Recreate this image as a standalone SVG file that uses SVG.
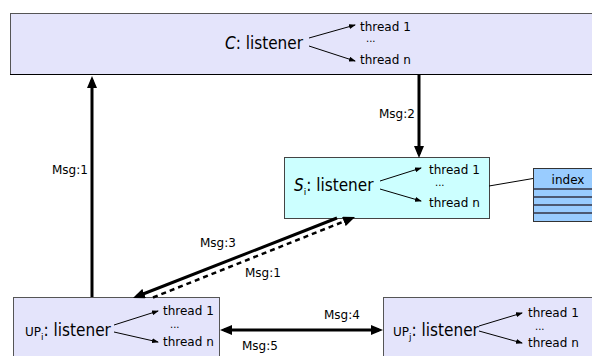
<svg xmlns="http://www.w3.org/2000/svg" width="592" height="356" viewBox="0 0 592 356">
  <style>
    .box { fill: #e4e4fb; stroke: #555; stroke-width: 1; }
    .srv { fill: #ccffff; stroke: #444; stroke-width: 1; }
    .idx { fill: #99ccff; stroke: #333; stroke-width: 1; }
    .row { stroke: #334; stroke-width: 1.5; }
    .name { font-family: "DejaVu Sans Condensed", "DejaVu Sans", sans-serif; font-size: 17px; fill: #000; }
    .sub { font-family: "DejaVu Sans", sans-serif; font-size: 9px; }
    .up { font-family: "DejaVu Sans", sans-serif; font-size: 12px; }
    .thr { font-family: "DejaVu Sans", sans-serif; font-size: 12px; fill: #000; }
    .dots { font-family: "DejaVu Sans", sans-serif; font-size: 10px; fill: #000; }
    .lbl { font-family: "DejaVu Sans", sans-serif; font-size: 12px; fill: #000; }
    .thick { stroke: #000; stroke-width: 3; fill: none; }
    .dash { stroke: #000; stroke-width: 2.5; fill: none; stroke-dasharray: 5 4; }
    .thin { stroke: #000; stroke-width: 1; fill: none; }
  </style>
  <defs>
    <marker id="big" viewBox="0 0 12 10" markerUnits="userSpaceOnUse" markerWidth="12" markerHeight="10" refX="8" refY="5" orient="auto-start-reverse">
      <path d="M0,0 L12,5 L0,10 z" fill="#000"/>
    </marker>
    <marker id="small" viewBox="0 0 7 5" markerUnits="userSpaceOnUse" markerWidth="7" markerHeight="5" refX="6" refY="2.5" orient="auto">
      <path d="M0,0 L7,2.5 L0,5 z" fill="#000"/>
    </marker>
  </defs>

  <!-- coordinator -->
  <g id="coordinator">
    <rect class="box" x="10.5" y="13.5" width="590" height="61"/>
    <line x1="10" y1="74.5" x2="592" y2="74.5" stroke="#000" stroke-width="1"/>
    <text class="name" x="225" y="49"><tspan font-style="italic">C</tspan>: listener</text>
    <line class="thin" x1="309" y1="38" x2="355" y2="25" marker-end="url(#small)"/>
    <line class="thin" x1="309" y1="46" x2="355" y2="61" marker-end="url(#small)"/>
    <text class="thr" x="360" y="31">thread 1</text>
    <text class="dots" x="366" y="42">...</text>
    <text class="thr" x="360" y="64">thread n</text>
  </g>

  <!-- server S_i -->
  <g id="server">
    <rect class="srv" x="284.5" y="157.5" width="205" height="61"/>
    <text class="name" x="294" y="191"><tspan font-style="italic">S</tspan><tspan class="sub" dy="4">i</tspan><tspan dy="-4">: listener</tspan></text>
    <line class="thin" x1="380" y1="181" x2="421" y2="168" marker-end="url(#small)"/>
    <line class="thin" x1="380" y1="189" x2="421" y2="201" marker-end="url(#small)"/>
    <text class="thr" x="429" y="174">thread 1</text>
    <text class="dots" x="435" y="186">...</text>
    <text class="thr" x="429" y="207">thread n</text>
  </g>

  <!-- index table -->
  <g id="index">
    <rect class="idx" x="533.5" y="168.5" width="70" height="53"/>
    <line class="row" x1="533" y1="189" x2="604" y2="189"/>
    <line class="row" x1="533" y1="197" x2="604" y2="197"/>
    <line class="row" x1="533" y1="205" x2="604" y2="205"/>
    <line class="row" x1="533" y1="213" x2="604" y2="213"/>
    <text class="lbl" x="568" y="184" font-size="13" text-anchor="middle">index</text>
  </g>

  <!-- peer UP_i -->
  <g id="peer-i">
    <rect class="box" x="13.5" y="297.5" width="206" height="70"/>
    <text class="name" x="25" y="336"><tspan class="up">UP</tspan><tspan class="sub" dy="4">i</tspan><tspan dy="-4">: listener</tspan></text>
    <line class="thin" x1="114" y1="325" x2="158" y2="311" marker-end="url(#small)"/>
    <line class="thin" x1="114" y1="332" x2="158" y2="342" marker-end="url(#small)"/>
    <text class="thr" x="163" y="315">thread 1</text>
    <text class="dots" x="170" y="328">...</text>
    <text class="thr" x="163" y="346">thread n</text>
  </g>

  <!-- peer UP_j -->
  <g id="peer-j">
    <rect class="box" x="383.5" y="297.5" width="220" height="70"/>
    <text class="name" x="393" y="336"><tspan class="up">UP</tspan><tspan class="sub" dy="4">j</tspan><tspan dy="-4">: listener</tspan></text>
    <line class="thin" x1="479" y1="326" x2="522" y2="313" marker-end="url(#small)"/>
    <line class="thin" x1="479" y1="331" x2="522" y2="343" marker-end="url(#small)"/>
    <text class="thr" x="528" y="317">thread 1</text>
    <text class="dots" x="535" y="330">...</text>
    <text class="thr" x="528" y="347">thread n</text>
  </g>

  <!-- messages -->
  <g id="connectors">
    <line class="thin" x1="489" y1="186" x2="533" y2="178.5"/>
    <line class="thick" x1="92" y1="297" x2="92" y2="80" marker-end="url(#big)"/>
    <line class="thick" x1="419" y1="75" x2="419" y2="154" marker-end="url(#big)"/>
    <line class="thick" x1="337" y1="218" x2="136.7" y2="296.5" marker-end="url(#big)"/>
    <line class="dash" x1="153" y1="297.5" x2="351.3" y2="218.5" marker-end="url(#big)"/>
    <line class="thick" x1="224" y1="330" x2="379" y2="330" marker-start="url(#big)" marker-end="url(#big)"/>
    <text class="lbl" x="52" y="174">Msg:1</text>
    <text class="lbl" x="379" y="118">Msg:2</text>
    <text class="lbl" x="200" y="247">Msg:3</text>
    <text class="lbl" x="245" y="277">Msg:1</text>
    <text class="lbl" x="324" y="319">Msg:4</text>
    <text class="lbl" x="242" y="350">Msg:5</text>
  </g>
</svg>
